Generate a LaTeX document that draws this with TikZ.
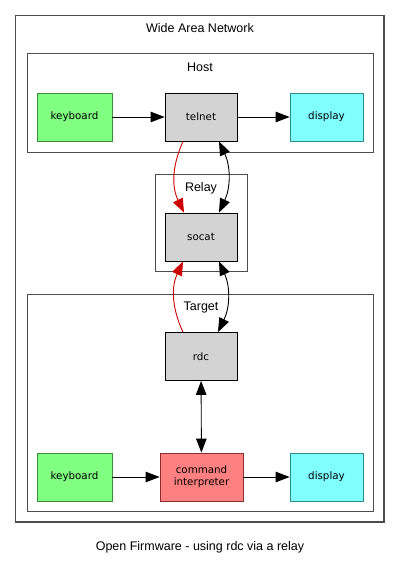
\documentclass[tikz,border=0pt]{standalone}
\usepackage{fontspec}
\setmainfont{Liberation Sans}
\newfontfamily\boxfont{DejaVu Sans}
\usetikzlibrary{positioning}
\usetikzlibrary{arrows.meta}

\definecolor{keyfill}{HTML}{80FF80}
\definecolor{keyline}{HTML}{3C8C3C}
\definecolor{dispfill}{HTML}{80FFFF}
\definecolor{displine}{HTML}{2F8A8A}
\definecolor{cmdfill}{HTML}{FF8080}
\definecolor{cmdline}{HTML}{8A2E2E}
\definecolor{procfill}{HTML}{D3D3D3}
\definecolor{redline}{HTML}{CC0000}
\definecolor{frame}{HTML}{4D4D4D}

\begin{document}
\begin{tikzpicture}[x=1pt,y=-1pt,
  box/.style={draw, line width=0.8pt, minimum height=48pt, inner sep=0pt, align=center,
    font=\boxfont\fontsize{10.3}{12}\selectfont},
  proc/.style={box, fill=procfill, minimum width=72pt},
  key/.style={box, draw=keyline, fill=keyfill, minimum width=75pt},
  disp/.style={box, draw=displine, fill=dispfill, minimum width=73pt},
  cmd/.style={box, draw=cmdline, fill=cmdfill, minimum width=83pt},
  cluster/.style={draw=frame, line width=1pt},
  lbl/.style={inner sep=0pt, font=\fontsize{12.5}{14}\selectfont},
  tip/.style={line width=0.9pt, -{Triangle[length=14pt,width=10.5pt]}},
  both/.style={line width=0.9pt, {Triangle[length=14pt,width=10.5pt]}-{Triangle[length=14pt,width=10.5pt]}}]
\useasboundingbox (0,0) rectangle (400,567);

% clusters
\draw[cluster, line width=1.3pt] (15.5,15.5) rectangle (384,522);
\draw[cluster] (27,54) rectangle (373,152);
\draw[cluster] (155,174.5) rectangle (247.5,271.5);
\draw[cluster] (27,294.5) rectangle (373,511.5);

\node[lbl](wan) at (200,28){Wide Area Network};
\node[lbl](host) at (200,67){Host};
\node[lbl](relay) at (201,188){Relay};
\node[lbl](target) at (201,307){Target};
\node[lbl](caption) at (200,547){Open Firmware - using rdc via a relay};

\node[key](hkbd) at (74.5,117){keyboard};
\node[proc](telnet) at (201,117){telnet};
\node[disp](hdisp) at (326.5,117){display};
\node[proc](socat) at (201,237){socat};
\node[proc](rdc) at (201,356.5){rdc};
\node[key](tkbd) at (74.5,477){keyboard};
\node[cmd](cmd) at (201.5,477){command\\interpreter};
\node[disp](tdisp) at (326.5,477){display};

\path
(hkbd) edge[tip] (telnet)
(telnet) edge[tip] (hdisp)
([xshift=-18pt]telnet.south) edge[tip, redline, bend right=25] ([xshift=-17pt]socat.north)
([xshift=18pt]telnet.south) edge[both, bend left=25] ([xshift=18pt]socat.north)
([xshift=-18pt]rdc.north) edge[tip, redline, bend left=25] ([xshift=-18pt]socat.south)
([xshift=18pt]socat.south) edge[both, bend left=25] ([xshift=17pt]rdc.north)
(rdc) edge[both] (cmd)
(tkbd) edge[tip] (cmd)
(cmd) edge[tip] (tdisp);
\end{tikzpicture}
\end{document}
